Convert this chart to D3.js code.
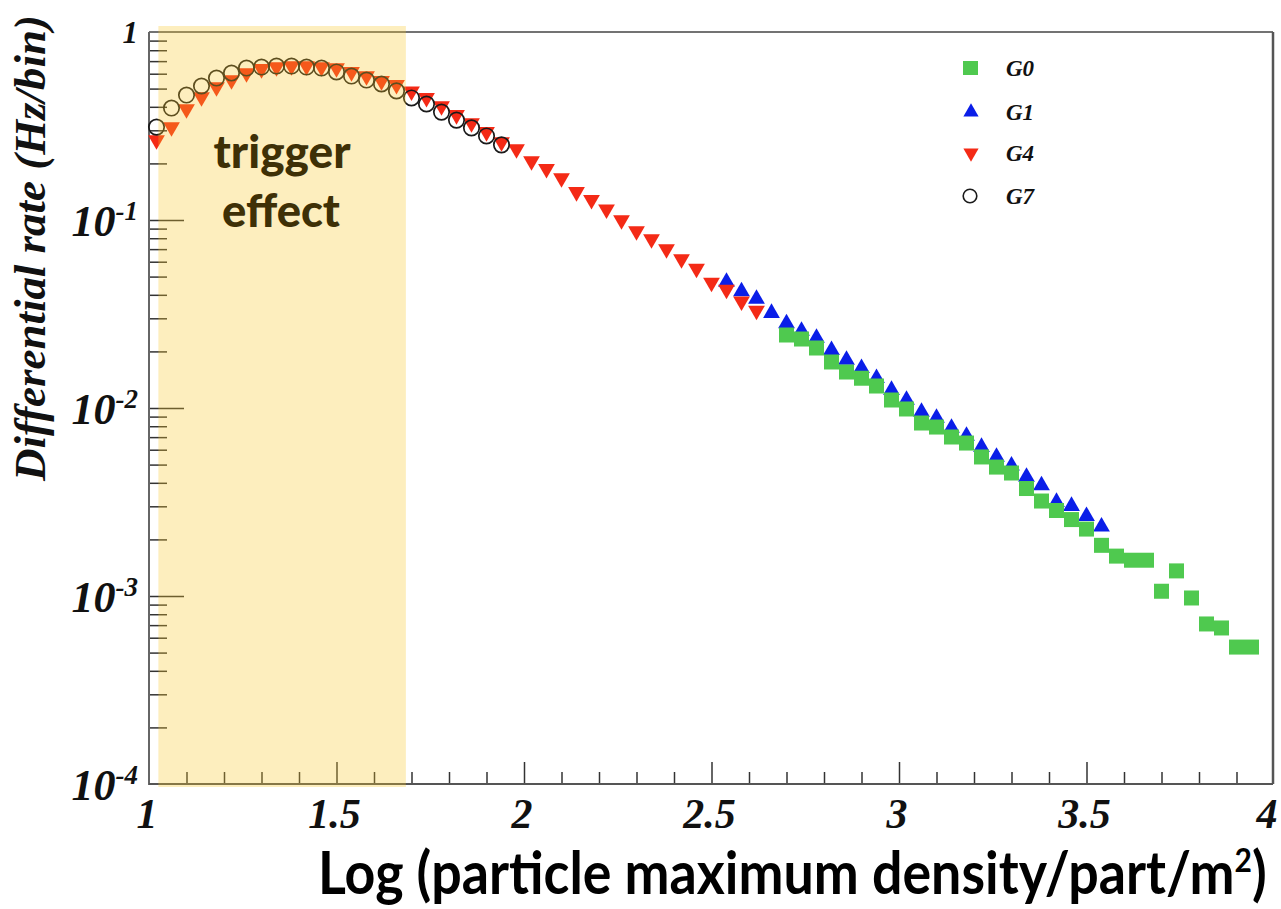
<!DOCTYPE html>
<html>
<head>
<meta charset="utf-8">
<script src="https://cdn.jsdelivr.net/npm/d3@7"></script>
<style>
  html, body { margin: 0; padding: 0; background: #fff; }
  svg { display: block; }
</style>
</head>
<body>
<svg id="chart" width="1281" height="909"></svg>
<script>
// Histogram bin centres, log10 of particle maximum density
const logDensityBins = [
  1.02, 1.06, 1.10, 1.14, 1.18, 1.22, 1.26, 1.30, 1.34, 1.38,
  1.42, 1.46, 1.50, 1.54, 1.58, 1.62, 1.66, 1.70, 1.74, 1.78,
  1.82, 1.86, 1.90, 1.94, 1.98, 2.02, 2.06, 2.10, 2.14, 2.18,
  2.22, 2.26, 2.30, 2.34, 2.38, 2.42, 2.46, 2.50, 2.54, 2.58,
  2.62, 2.66, 2.70, 2.74, 2.78, 2.82, 2.86, 2.90, 2.94, 2.98,
  3.02, 3.06, 3.10, 3.14, 3.18, 3.22, 3.26, 3.30, 3.34, 3.38,
  3.42, 3.46, 3.50, 3.54, 3.58, 3.62, 3.66, 3.70, 3.74, 3.78,
  3.82, 3.86, 3.90, 3.94
];

// Differential rate (Hz/bin) per group; each group starts at the given bin index
const g0FirstBin = 42;
const g0Rate = [
  0.02445, 0.02328, 0.02085, 0.01757, 0.01554, 0.0144, 0.01309, 0.01103,
  0.00988, 0.00832, 0.00792, 0.00701, 0.00651, 0.00549, 0.00485, 0.00451,
  0.00373, 0.00320, 0.00285, 0.00255, 0.00227, 0.00186, 0.00163, 0.00155,
  0.00155, 0.00106, 0.00136, 0.000976, 0.000710, 0.000676, 0.000535, 0.000535
];

const g1FirstBin = 38;
const g1Rate = [
  0.0468, 0.0417, 0.0380, 0.0320, 0.0282, 0.0257, 0.0236, 0.0203,
  0.0180, 0.0163, 0.0144, 0.01246, 0.01103, 0.00952, 0.00885, 0.00783,
  0.00710, 0.00620, 0.00549, 0.00494, 0.00430, 0.00387, 0.00316, 0.00301,
  0.00266, 0.00234
];

const g4FirstBin = 0;
const g4Rate = [
  0.266, 0.312, 0.389, 0.451, 0.510, 0.555, 0.605, 0.636, 0.651, 0.659,
  0.659, 0.651, 0.643, 0.613, 0.583, 0.549, 0.523, 0.483, 0.446, 0.404,
  0.362, 0.328, 0.294, 0.260, 0.2385, 0.206, 0.187, 0.167, 0.141, 0.128,
  0.114, 0.100, 0.0874, 0.0792, 0.0701, 0.0620, 0.0552, 0.0465, 0.0427, 0.0369,
  0.0330
];

const g7FirstBin = 0;
const g7Rate = [
  0.312, 0.394, 0.462, 0.516, 0.569, 0.605, 0.643, 0.651, 0.659, 0.659,
  0.651, 0.643, 0.613, 0.583, 0.555, 0.529, 0.486, 0.446, 0.414, 0.375,
  0.340, 0.309, 0.280, 0.251
];

const seriesNames = ["G0", "G1", "G4", "G7"];

// Axis ticks and labels
const xMajorTicks = [1, 1.5, 2, 2.5, 3, 3.5, 4];
const xTickLabels = ["1", "1.5", "2", "2.5", "3", "3.5", "4"];
const xMinorTicks = [1.1, 1.2, 1.3, 1.4, 1.6, 1.7, 1.8, 1.9, 2.1, 2.2, 2.3, 2.4,
                     2.6, 2.7, 2.8, 2.9, 3.1, 3.2, 3.3, 3.4, 3.6, 3.7, 3.8, 3.9];
const yDecades = [1e-4, 1e-3, 1e-2, 1e-1, 1];
const yTickMantissa = ["10", "10", "10", "10", "1"];
const yTickExponent = ["-4", "-3", "-2", "-1", ""];
const yMinorTicks = [];
[1e-4, 1e-3, 1e-2, 1e-1].forEach(d => {
  for (let m = 2; m <= 9; m++) yMinorTicks.push(m * d);
});

const triggerBand = [1.025, 1.685];   // shaded low-density region, in log density
const triggerText = ["trigger", "effect"];
const xTitle = "Log (particle maximum density/part/m";
const yTitle = "Differential rate (Hz/bin)";

// ---------------------------------------------------------------------------
const svg = d3.select("#chart");
const W = 1281, H = 909;
const plot = { left: 149, right: 1274, top: 32, bottom: 784 };

const x = d3.scaleLinear().domain([1, 4]).range([plot.left, plot.right]);
const y = d3.scaleLog().domain([1e-4, 1]).range([plot.bottom, plot.top]);

svg.append("rect").attr("width", W).attr("height", H).attr("fill", "#fff");

const serif = "'Liberation Serif', 'Times New Roman', serif";
const sans = "Lato, 'Open Sans', sans-serif";

// Ticks (inside the frame)
const tickColor = "#333";
function styleAxis(g) {
  g.select(".domain").remove();
  g.selectAll(".tick line").attr("stroke", tickColor).attr("stroke-width", 1.5);
  g.selectAll(".tick text").remove();
}
svg.append("g").attr("transform", `translate(0,${plot.bottom})`)
  .call(d3.axisBottom(x).tickValues(xMinorTicks).tickSize(-12)).call(styleAxis);
svg.append("g").attr("transform", `translate(0,${plot.bottom})`)
  .call(d3.axisBottom(x).tickValues(xMajorTicks.slice(1, -1)).tickSize(-22)).call(styleAxis);
svg.append("g").attr("transform", `translate(${plot.left},0)`)
  .call(d3.axisLeft(y).tickValues(yMinorTicks).tickSize(-18)).call(styleAxis);
svg.append("g").attr("transform", `translate(${plot.left},0)`)
  .call(d3.axisLeft(y).tickValues(yDecades.slice(1, -1)).tickSize(-35)).call(styleAxis);

// Frame
svg.append("line").attr("x1", plot.left).attr("x2", plot.right - 1)
  .attr("y1", plot.top).attr("y2", plot.top).attr("stroke", "#444").attr("stroke-width", 1.5);
svg.append("line").attr("x1", plot.right - 1).attr("x2", plot.right - 1)
  .attr("y1", plot.top).attr("y2", plot.bottom).attr("stroke", "#555").attr("stroke-width", 2.5);
svg.append("line").attr("x1", plot.left).attr("x2", plot.left)
  .attr("y1", plot.top).attr("y2", plot.bottom + 1).attr("stroke", "#666").attr("stroke-width", 2);
svg.append("line").attr("x1", plot.left).attr("x2", plot.right - 1)
  .attr("y1", plot.bottom).attr("y2", plot.bottom).attr("stroke", "#555").attr("stroke-width", 2);

// Tick labels
svg.append("g").selectAll("text").data(xMajorTicks).join("text")
  .attr("x", d => d === 4 ? x(d) - 7 : x(d) - 2)
  .attr("y", 828)
  .attr("text-anchor", "middle")
  .attr("font-family", serif).attr("font-weight", "bold").attr("font-style", "italic")
  .attr("font-size", 42).attr("fill", "#111")
  .text((d, i) => xTickLabels[i]);

const yLab = svg.append("g").selectAll("text").data(yDecades).join("text")
  .attr("x", 138)
  .attr("y", d => y(d) + (d === 1 ? 11 : 16))
  .attr("text-anchor", "end")
  .attr("font-family", serif).attr("font-weight", "bold").attr("font-style", "italic")
  .attr("fill", "#111")
  .attr("font-size", d => d === 1 ? 31 : 44);
yLab.append("tspan").text((d, i) => yTickMantissa[i]);
yLab.append("tspan").attr("dy", -16).attr("font-size", 27).text((d, i) => yTickExponent[i]);

// Data markers
const green = "#4fc94f", blue = "#0a1ee8", red = "#f42a16";
const sq = 15;
const triUp = d3.symbol().type(d3.symbolTriangle).size(122);

function pts(first, rates) {
  return rates.map((v, i) => ({ lx: logDensityBins[first + i], v }));
}

const marks = svg.append("g");
marks.selectAll("path.g1").data(pts(g1FirstBin, g1Rate)).join("path")
  .attr("class", "g1").attr("d", triUp)
  .attr("transform", d => `translate(${x(d.lx)},${y(d.v)})`)
  .attr("fill", blue);
marks.selectAll("rect.g0").data(pts(g0FirstBin, g0Rate)).join("rect")
  .attr("class", "g0")
  .attr("x", d => x(d.lx) - sq / 2).attr("y", d => y(d.v) - sq / 2)
  .attr("width", sq).attr("height", sq).attr("fill", green);
marks.selectAll("path.g4").data(pts(g4FirstBin, g4Rate)).join("path")
  .attr("class", "g4").attr("d", triUp)
  .attr("transform", d => `translate(${x(d.lx)},${y(d.v)}) rotate(180)`)
  .attr("fill", red);
marks.selectAll("circle.g7").data(pts(g7FirstBin, g7Rate)).join("circle")
  .attr("class", "g7")
  .attr("cx", d => x(d.lx)).attr("cy", d => y(d.v)).attr("r", 7.7)
  .attr("fill", "none").attr("stroke", "#1a1a1a").attr("stroke-width", 1.7);

// Legend
const legendRows = [68, 112, 153, 196];
const leg = svg.append("g");
leg.append("rect").attr("x", 963).attr("y", legendRows[0] - 7).attr("width", 15).attr("height", 14).attr("fill", green);
leg.append("path").attr("d", d3.symbol().type(d3.symbolTriangle).size(100))
  .attr("transform", `translate(971,${legendRows[1]})`).attr("fill", blue);
leg.append("path").attr("d", d3.symbol().type(d3.symbolTriangle).size(100))
  .attr("transform", `translate(971,${legendRows[2]}) rotate(180)`).attr("fill", red);
leg.append("circle").attr("cx", 970).attr("cy", legendRows[3]).attr("r", 6.8)
  .attr("fill", "none").attr("stroke", "#1a1a1a").attr("stroke-width", 1.6);
leg.selectAll("text").data(seriesNames).join("text")
  .attr("x", 1006).attr("y", (d, i) => legendRows[i] + 8)
  .attr("font-family", serif).attr("font-weight", "bold").attr("font-style", "italic")
  .attr("font-size", 23).attr("fill", "#111")
  .text(d => d);

// Shaded trigger region, laid over the frame and markers
svg.append("rect")
  .attr("x", x(triggerBand[0])).attr("y", plot.top - 6)
  .attr("width", x(triggerBand[1]) - x(triggerBand[0]))
  .attr("height", plot.bottom - plot.top + 9)
  .attr("fill", "rgb(248,200,40)").attr("opacity", 0.3);

function fitWidth(sel, target) {
  const w = sel.node().getComputedTextLength();
  const fs = parseFloat(sel.attr("font-size"));
  sel.attr("font-size", fs * target / w);
}

const trig = svg.append("text").attr("x", 282).attr("y", 168)
  .attr("text-anchor", "middle").attr("font-family", sans).attr("font-weight", 900)
  .attr("font-size", 44).attr("fill", "#3e3006").text(triggerText[0]);
fitWidth(trig, 137);
const eff = svg.append("text").attr("x", 281).attr("y", 227)
  .attr("text-anchor", "middle").attr("font-family", sans).attr("font-weight", 900)
  .attr("font-size", 44).attr("fill", "#3e3006").text(triggerText[1]);
fitWidth(eff, 118);

// Axis titles
const xt = svg.append("text").attr("x", 0).attr("y", 0)
  .attr("transform", "translate(318,894) scale(1,1.1)")
  .attr("font-family", sans).attr("font-weight", 700).attr("font-size", 50).attr("fill", "#000");
xt.append("tspan").text(xTitle);
xt.append("tspan").attr("dy", -20).attr("font-size", 30).text("2");
xt.append("tspan").attr("dy", 20).text(")");
fitWidth(xt, 950);

const yt = svg.append("text")
  .attr("transform", "translate(45,248) rotate(-90)")
  .attr("text-anchor", "middle")
  .attr("font-family", serif).attr("font-weight", "bold").attr("font-style", "italic")
  .attr("font-size", 43).attr("fill", "#111")
  .text(yTitle);
fitWidth(yt, 466);
</script>
</body>
</html>
